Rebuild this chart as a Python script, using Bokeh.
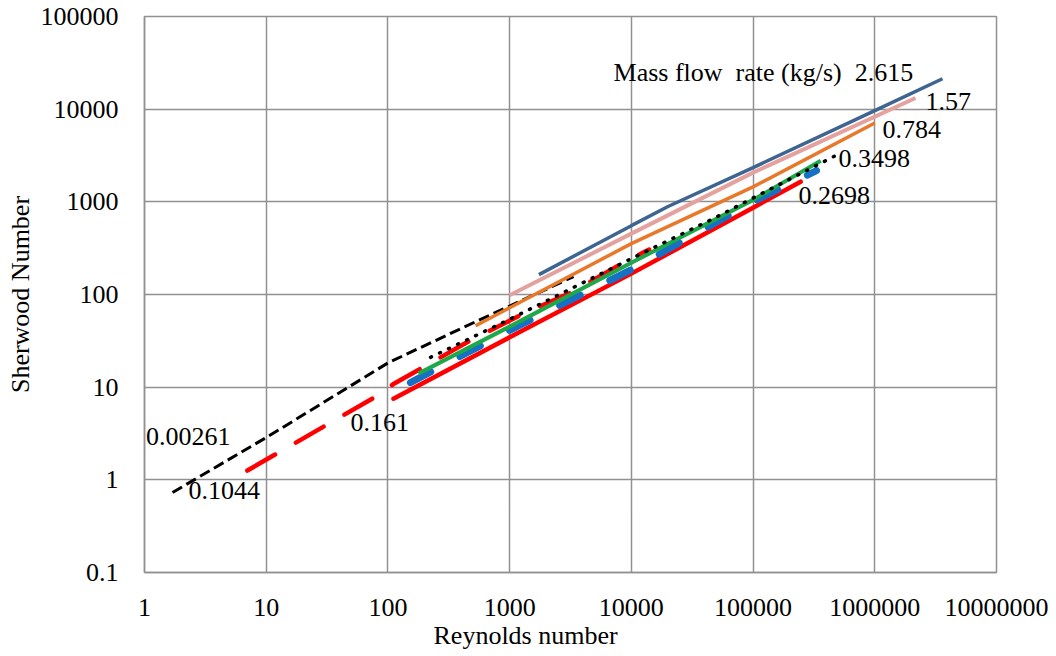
from bokeh.plotting import figure
from bokeh.models import FixedTicker, CustomJSTickFormatter, Label, Title
from bokeh.embed import file_html
from bokeh.resources import INLINE

# ---------------- data ----------------
x_ticks = [1, 10, 100, 1000, 10000, 100000, 1000000, 10000000]
y_ticks = [0.1, 1, 10, 100, 1000, 10000, 100000]

re_00261 = [1.7, 10, 101, 545, 3350]
sh_00261 = [0.73, 2.86, 18.4, 52, 156]

re_0161 = [7.0, 82, 111, 477, 1253, 3350, 8630, 14000]
sh_0161 = [1.26, 8.1, 10.8, 32, 60.7, 108, 221, 305]

re_red_solid = [111, 1000, 10000, 100000, 246000]
sh_red_solid = [7.5, 34.5, 168, 865, 1650]

re_02698 = [153, 1000, 10000, 100000, 332000]
sh_02698 = [11.2, 41, 185, 1000, 2170]

re_green = [178, 1000, 10000, 100000, 360000]
sh_green = [14, 45, 220, 1050, 2770]

re_03498 = [224, 1000, 10000, 47300, 100000, 476000]
sh_03498 = [21, 54, 244, 660, 1100, 3150]

re_0784 = [525, 1000, 10000, 100000, 1000000]
sh_0784 = [46, 72, 354, 1450, 7100]

re_157 = [1000, 10000, 100000, 2160000]
sh_157 = [98, 454, 2065, 13200]

re_2615 = [1740, 10000, 20000, 100000, 1000000, 3600000]
sh_2615 = [164, 553, 890, 2340, 9640, 21300]

label_texts = ["Mass flow\u00a0 rate (kg/s)\u00a0 2.615", "1.57", "0.784", "0.3498",
               "0.2698", "0.161", "0.00261", "0.1044"]
label_re = [7140, 2.61e6, 1.159e6, 504000, 236600, 49.3, 1.03, 2.30]
label_sh = [24800, 12130, 6010, 2925, 1167, 4.18, 2.93, 0.767]

x_title = "Reynolds number"
y_title = "Sherwood Number"

# ---------------- figure ----------------
FONT = "Liberation Serif"
GRID = "#919191"

p = figure(width=1056, height=656, x_axis_type="log", y_axis_type="log",
           x_range=(1, 1e7), y_range=(0.1, 1e5),
           output_backend="svg", toolbar_location=None,
           min_border_left=144, min_border_right=60,
           min_border_top=16, min_border_bottom=84)
p.background_fill_color = "white"
p.border_fill_color = "white"
p.outline_line_color = GRID
p.outline_line_width = 1.5

p.xaxis.ticker = FixedTicker(ticks=x_ticks)
p.yaxis.ticker = FixedTicker(ticks=y_ticks)
p.xgrid.ticker = FixedTicker(ticks=x_ticks)
p.ygrid.ticker = FixedTicker(ticks=y_ticks)
fmt = CustomJSTickFormatter(code="return tick >= 1 ? tick.toFixed(0) : String(tick);")
p.xaxis.formatter = fmt
p.yaxis.formatter = fmt

for ax in (p.xaxis, p.yaxis):
    ax.major_tick_line_color = None
    ax.minor_tick_line_color = None
    ax.major_tick_out = 0
    ax.major_tick_in = 0
    ax.minor_tick_out = 0
    ax.minor_tick_in = 0
    ax.axis_line_color = GRID
    ax.axis_line_width = 1.5
    ax.major_label_text_font = FONT
    ax.major_label_text_font_size = "26px"
    ax.major_label_text_color = "black"
    ax.axis_label_text_font = FONT
    ax.axis_label_text_font_size = "26px"
    ax.axis_label_text_font_style = "normal"
    ax.axis_label_text_color = "black"
p.xaxis.major_label_standoff = 26
p.yaxis.major_label_standoff = 26
p.yaxis.axis_label = y_title
p.yaxis.axis_label_standoff = 3

p.add_layout(Title(text=x_title, align="left", offset=289, standoff=0,
                   text_font=FONT, text_font_size="26px",
                   text_font_style="normal", text_color="black"), "below")

for g in (p.xgrid, p.ygrid):
    g.grid_line_color = GRID
    g.grid_line_width = 1.5

# ---------------- series ----------------
p.line(re_00261, sh_00261, line_color="black", line_width=3, line_dash="11 5")
p.line(re_0161, sh_0161, line_color="#ff0000", line_width=4.5, line_dash="32 24",
       line_cap="round")
p.line(re_red_solid, sh_red_solid, line_color="#ff0000", line_width=4.5,
       line_cap="round")
p.line(re_02698, sh_02698, line_color="#1670c4", line_width=7, line_dash="23 33",
       line_cap="round")
p.line(re_green, sh_green, line_color="#1fa84a", line_width=4)
p.line(re_03498, sh_03498, line_color="black", line_width=3.5, line_dash="1 9",
       line_cap="round")
p.line(re_0784, sh_0784, line_color="#e8782a", line_width=3.5)
p.line(re_157, sh_157, line_color="#e3a29e", line_width=4)
p.line(re_2615, sh_2615, line_color="#3e6591", line_width=3.5)

# ---------------- annotations ----------------
for t, xx, yy in zip(label_texts, label_re, label_sh):
    p.add_layout(Label(x=xx, y=yy, text=t, text_font=FONT, text_font_size="26px",
                       text_baseline="middle", text_align="left",
                       text_color="black"))

open("out.html", "w").write(file_html(p, INLINE))
